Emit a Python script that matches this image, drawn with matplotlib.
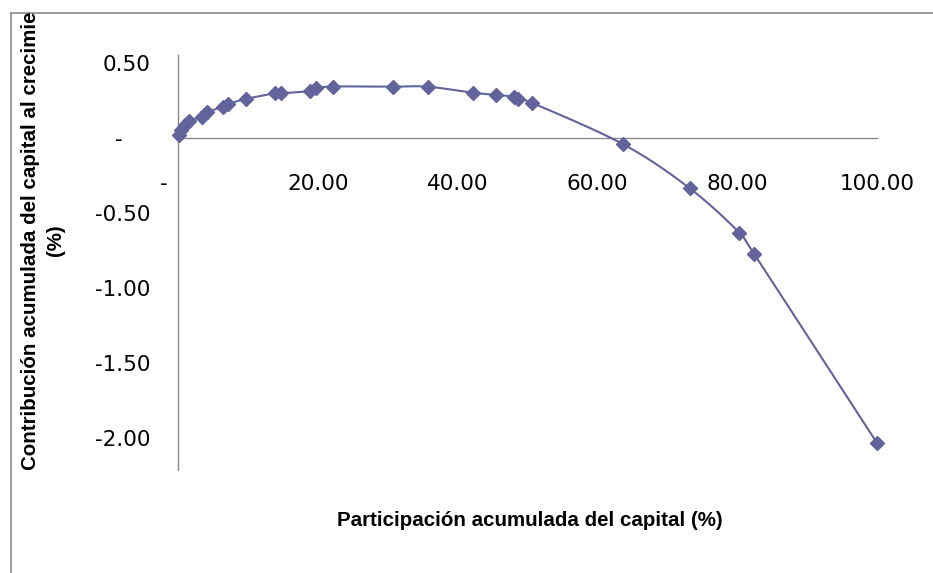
import numpy as np
import matplotlib
matplotlib.use("Agg")
import matplotlib.pyplot as plt
from matplotlib.lines import Line2D
from matplotlib.transforms import Bbox, TransformedBbox

# Cumulative capital share (%) and cumulative contribution to growth (%)
share = [0.2, 0.5, 1.0, 1.6, 3.4, 4.1, 6.5, 7.2, 9.7, 13.9, 14.8, 18.9, 19.8,
         22.2, 30.8, 35.7, 42.2, 45.5, 48.1, 48.6, 50.6, 63.7, 73.2, 80.3,
         82.4, 100.0]
contrib = [0.02, 0.053, 0.087, 0.115, 0.142, 0.171, 0.209, 0.227, 0.26, 0.298,
           0.298, 0.313, 0.331, 0.343, 0.342, 0.342, 0.302, 0.287, 0.275, 0.26,
           0.235, -0.042, -0.335, -0.631, -0.771, -2.033]

x_ticks = [0, 20, 40, 60, 80, 100]
x_ticklabels = ["-    ", "20.00", "40.00", "60.00", "80.00", "100.00"]
y_ticks = [0.5, 0.0, -0.5, -1.0, -1.5, -2.0]
y_ticklabels = ["0.50", "-    ", "-0.50", "-1.00", "-1.50", "-2.00"]

x_title = "Participación acumulada del capital (%)"
y_title_main = "Contribución acumulada del capital al crecimiento"
y_title_unit = "(%)"

SERIES = "#62639b"
AXIS = "#8a8a8a"
TITLE_FONT = ["Liberation Sans", "DejaVu Sans"]


def smooth_curve(xs, ys, n=40):
    """Bezier smoothing through every point (Catmull-Rom control points)."""
    P = np.column_stack([xs, ys]).astype(float)
    E = np.vstack([P[0], P, P[-1]])
    t = np.linspace(0, 1, n)[1:, None]
    parts = [P[:1]]
    for i in range(len(P) - 1):
        p0, p1, p2, p3 = E[i], E[i + 1], E[i + 2], E[i + 3]
        c1 = p1 + (p2 - p0) / 6.0
        c2 = p2 - (p3 - p1) / 6.0
        seg = ((1 - t) ** 3) * p1 + 3 * ((1 - t) ** 2) * t * c1 \
            + 3 * (1 - t) * (t ** 2) * c2 + (t ** 3) * p2
        parts.append(seg)
    out = np.vstack(parts)
    return out[:, 0], out[:, 1]


W, H = 933, 573
fig = plt.figure(figsize=(W / 100, H / 100), dpi=100)
fig.patch.set_facecolor("white")

left, right, top, bottom = 178, 877, 55, 470
ax = fig.add_axes([left / W, 1 - bottom / H, (right - left) / W, (bottom - top) / H])
ax.set_xlim(0, 100)
ax.set_ylim(-2.213, 0.553)

cx, cy = smooth_curve(share, contrib)
ax.plot(cx, cy, color=SERIES, lw=1.5, zorder=3, clip_on=False)
ax.plot(share, contrib, linestyle="none", marker="D", markersize=6.8,
        color=SERIES, markeredgecolor=SERIES, zorder=4, clip_on=False)

for s in ("top", "right"):
    ax.spines[s].set_visible(False)
ax.spines["bottom"].set_position(("data", 0))
for s in ("left", "bottom"):
    ax.spines[s].set_color(AXIS)
    ax.spines[s].set_linewidth(1.0)

ax.set_xticks(x_ticks)
ax.set_xticklabels(x_ticklabels)
ax.set_yticks(y_ticks)
ax.set_yticklabels(y_ticklabels)
ax.tick_params(axis="x", length=0, pad=26, labelsize=15.5, labelcolor="black")
ax.tick_params(axis="y", length=0, pad=20, labelsize=15.5, labelcolor="black")
for lab in ax.get_xticklabels() + ax.get_yticklabels():
    lab.set_family("DejaVu Sans")

# axis titles
fig.text(530 / W, 1 - 521 / H, x_title, ha="center", va="center",
         fontsize=14.8, fontweight="bold", family=TITLE_FONT)

clip = TransformedBbox(Bbox([[0, 0], [1, 1 - 12.5 / H]]), fig.transFigure)
t_main = fig.text(31 / W, 1 - 470 / H, y_title_main, rotation=90,
                  ha="center", va="bottom", fontsize=14.8, fontweight="bold",
                  family=TITLE_FONT)
t_main.set_clip_box(clip)
t_main.set_clip_on(True)
fig.text(56 / W, 1 - 240 / H, y_title_unit, rotation=90, ha="center",
         va="center", fontsize=14.8, fontweight="bold", family=TITLE_FONT)

# chart area border (top and left edges visible)
fig.add_artist(Line2D([10.5 / W, 1], [1 - 12.5 / H] * 2,
                      transform=fig.transFigure, color="#8c8c8c", lw=1.2))
fig.add_artist(Line2D([10.5 / W] * 2, [0, 1 - 12.5 / H],
                      transform=fig.transFigure, color="#8c8c8c", lw=1.2))

fig.savefig("out.png", dpi=100)
